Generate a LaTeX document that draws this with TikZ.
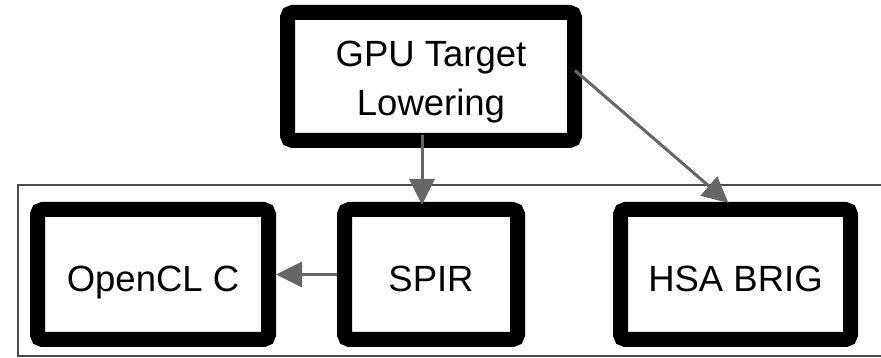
\documentclass[tikz,border=0pt]{standalone}
\usepackage{fontspec}
\setmainfont{Liberation Sans}
\usetikzlibrary{arrows.meta}
\begin{document}
\begin{tikzpicture}[x=1pt,y=1pt,
  stage/.style={draw=black, line width=15pt, rounded corners=5pt, fill=white,
    inner sep=0pt, align=center, text height=35pt, text depth=0pt,
    font=\fontsize{36.5}{49}\selectfont},
  caption/.style={inner sep=0pt, align=center, font=\fontsize{36.5}{49}\selectfont},
  flow/.style={draw=black!60, line width=3pt,
    -{Triangle[length=26pt,width=25pt]}}]
\useasboundingbox (0,0) rectangle (881,358);
\clip (0,0) rectangle (881,358);
\fill[white] (0,0) rectangle (881,358);
% container around the back-end targets
\draw[black!70, line width=1.5pt] (18,2) rectangle (905,173);
% stages
\node[stage, minimum width=287pt, minimum height=128pt] (gpu) at (431,281.5) {};
\node[caption] (gpulabel) at ([yshift=-6pt]gpu.center) {GPU Target\\Lowering};
\node[stage, minimum width=231pt, minimum height=130pt] (ocl) at (153,83.5) {OpenCL C};
\node[stage, minimum width=173pt, minimum height=130pt] (spir) at (431,83.5) {SPIR};
\node[stage, minimum width=230pt, minimum height=130pt] (hsa) at (735.5,83.5) {HSA BRIG};
% connectors
\draw[flow] ([shift={(-9pt,13pt)}]gpu.south) -- ([shift={(-9pt,-3pt)}]spir.north);
\draw[flow] ([shift={(-7pt,6pt)}]gpu.east) -- ([shift={(-7pt,-1pt)}]hsa.north);
\draw[flow] (spir.west) -- (ocl.east);
\end{tikzpicture}
\end{document}
